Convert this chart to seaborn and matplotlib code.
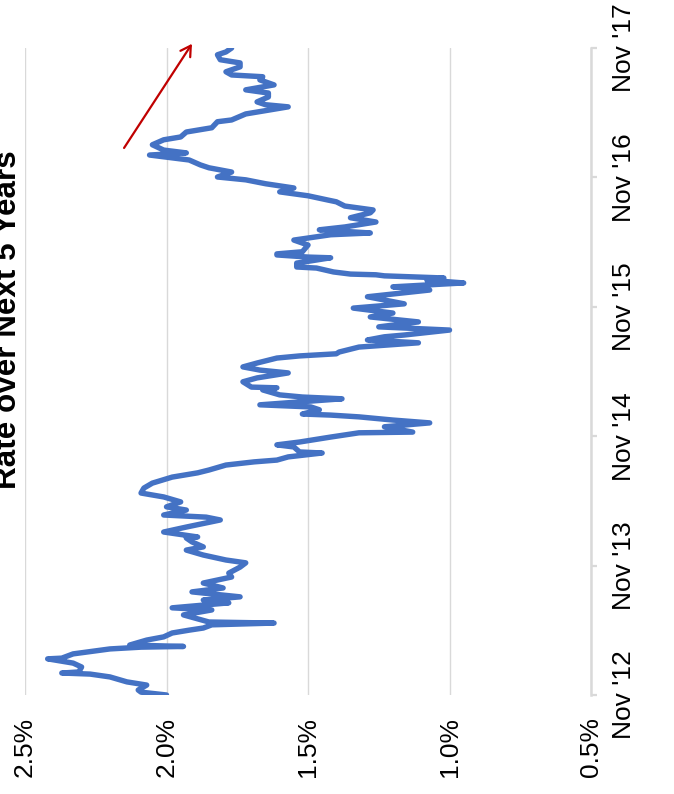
import numpy as np
import pandas as pd
import matplotlib
matplotlib.use("Agg")
import matplotlib.pyplot as plt
import matplotlib.dates as mdates
import seaborn as sns

# Day offsets from 1 Nov 2012 and the implied 5-year rate (%) on those days
days = [0, 8, 14, 28, 37, 51, 59, 62, 65, 79, 90, 102, 104, 116, 130, 135, 137, 141,
        155, 164, 175, 183, 189, 198, 203, 206, 226, 240, 246, 260, 268, 277, 291,
        302, 316, 333, 344, 361, 373, 381, 395, 409, 418, 432, 443, 446, 460, 474,
        494, 502, 508, 522, 531, 545, 559, 570, 584, 598, 615, 627, 635, 649, 658,
        663, 672, 683, 686, 700, 706, 714, 728, 740, 742, 757, 768, 776, 785, 790,
        793, 805, 813, 819, 836, 841, 847, 861, 867, 869, 884, 895, 909, 917, 926,
        937, 951, 957, 963, 968, 982, 994, 1002, 1011, 1016, 1030, 1039, 1053, 1067,
        1078, 1092, 1104, 1124, 1143, 1152, 1163, 1171, 1177, 1183, 1186, 1188, 1194,
        1205, 1208, 1219, 1234, 1236, 1242, 1245, 1251, 1270, 1284, 1299, 1304, 1313,
        1321, 1335, 1347, 1361, 1369, 1380, 1392, 1397, 1409, 1420, 1431, 1443, 1454,
        1462, 1476, 1488, 1496, 1510, 1524, 1530, 1538, 1553, 1567, 1575, 1589, 1601,
        1618, 1623, 1640, 1660, 1666, 1674, 1688, 1699, 1708, 1722, 1736, 1745, 1750,
        1759, 1773, 1784, 1793, 1807, 1815, 1826]
rate = [2.00, 2.09, 2.10, 2.07, 2.14, 2.20, 2.27, 2.37, 2.31, 2.30, 2.33, 2.42, 2.37,
        2.33, 2.20, 2.09, 1.94, 2.13, 2.07, 2.01, 1.98, 1.92, 1.87, 1.84, 1.62, 1.85,
        1.94, 1.84, 1.98, 1.78, 1.87, 1.74, 1.91, 1.80, 1.87, 1.77, 1.78, 1.74, 1.72,
        1.79, 1.87, 1.93, 1.87, 1.91, 1.93, 1.89, 2.01, 1.93, 1.81, 1.86, 2.01, 1.93,
        2.00, 1.95, 2.01, 2.09, 2.08, 2.05, 1.98, 1.89, 1.85, 1.79, 1.69, 1.61, 1.57,
        1.45, 1.53, 1.55, 1.61, 1.53, 1.42, 1.32, 1.13, 1.23, 1.07, 1.20, 1.32, 1.42,
        1.52, 1.46, 1.49, 1.67, 1.38, 1.52, 1.60, 1.66, 1.61, 1.70, 1.73, 1.68, 1.57,
        1.67, 1.73, 1.68, 1.61, 1.53, 1.40, 1.39, 1.32, 1.11, 1.29, 1.23, 1.16, 1.00,
        1.25, 1.11, 1.28, 1.20, 1.34, 1.16, 1.29, 1.07, 1.20, 0.95, 1.08, 1.02, 1.23,
        1.26, 1.35, 1.41, 1.47, 1.54, 1.54, 1.42, 1.50, 1.61, 1.61, 1.52, 1.50, 1.55,
        1.42, 1.28, 1.46, 1.37, 1.26, 1.35, 1.28, 1.27, 1.37, 1.40, 1.43, 1.50, 1.60,
        1.55, 1.65, 1.72, 1.82, 1.77, 1.85, 1.88, 1.92, 2.06, 1.93, 2.01, 2.05, 2.01,
        1.95, 1.93, 1.84, 1.82, 1.77, 1.72, 1.57, 1.65, 1.68, 1.64, 1.64, 1.72, 1.62,
        1.67, 1.66, 1.77, 1.79, 1.74, 1.74, 1.81, 1.82, 1.79, 1.77]

start_date = pd.Timestamp("2012-11-01")
end_date = pd.Timestamp("2017-11-01")
rate_ticks = [2.5, 2.0, 1.5, 1.0, 0.5]
date_ticks = pd.date_range("2012-11-01", "2017-11-01", freq="12MS")
title = "Rate over Next 5 Years"

# Upward-trend arrow: (rate %, day offset) for tail and head
arrow_tail = (2.15, 1544)
arrow_head = (1.91, 1838)

df = pd.DataFrame({"date": start_date + pd.to_timedelta(days, unit="D"),
                   "rate": rate})

sns.set_theme(style="white")
plt.rcParams["font.family"] = ["Liberation Sans", "DejaVu Sans"]

fig = plt.figure(figsize=(6.74, 7.94), dpi=100)
ax = fig.add_axes([0.0371, 0.1247, 0.8398, 0.8148])

sns.lineplot(data=df, x="rate", y="date", sort=False, estimator=None,
             orient="y", color="#4472C4", linewidth=3.9, ax=ax,
             solid_joinstyle="round", solid_capstyle="round")

ax.set_xlim(2.5, 0.5)
ax.set_ylim(start_date, end_date)
ax.set_xlabel("")
ax.set_ylabel("")

grid_col = "#D9D9D9"
ax.set_xticks(rate_ticks)
ax.set_xticklabels([f"{v:.1f}%" for v in rate_ticks], rotation=90, fontsize=19)
ax.grid(axis="x", color=grid_col, linewidth=1.0)
ax.grid(axis="y", visible=False)
ax.tick_params(axis="x", length=0, pad=16, colors="black")

ax.yaxis.tick_right()
ax.set_yticks(date_ticks)
ax.yaxis.set_major_formatter(mdates.DateFormatter("%b '%y"))
for lab in ax.get_yticklabels():
    lab.set_rotation(90)
    lab.set_va("center")
    lab.set_fontsize(19)
ax.tick_params(axis="y", which="major", direction="out", length=4.5, width=1.6,
               color=grid_col, pad=10.5, labelcolor="black", right=True, left=False)

for side in ["left", "top", "bottom"]:
    ax.spines[side].set_visible(False)
ax.spines["right"].set_color(grid_col)
ax.spines["right"].set_linewidth(1.8)

ax.annotate("", xy=(arrow_head[0], mdates.date2num(start_date + pd.Timedelta(days=arrow_head[1]))),
            xytext=(arrow_tail[0], mdates.date2num(start_date + pd.Timedelta(days=arrow_tail[1]))),
            arrowprops=dict(arrowstyle="->,head_length=0.6,head_width=0.35",
                            color="#C00000", lw=1.6, shrinkA=0, shrinkB=0),
            annotation_clip=False)

fig.text(0.0335, 0.597, title, rotation=90, ha="right", va="center",
         fontsize=22.6, fontweight="bold", color="black")

fig.savefig("out.png", dpi=100, facecolor="white")
